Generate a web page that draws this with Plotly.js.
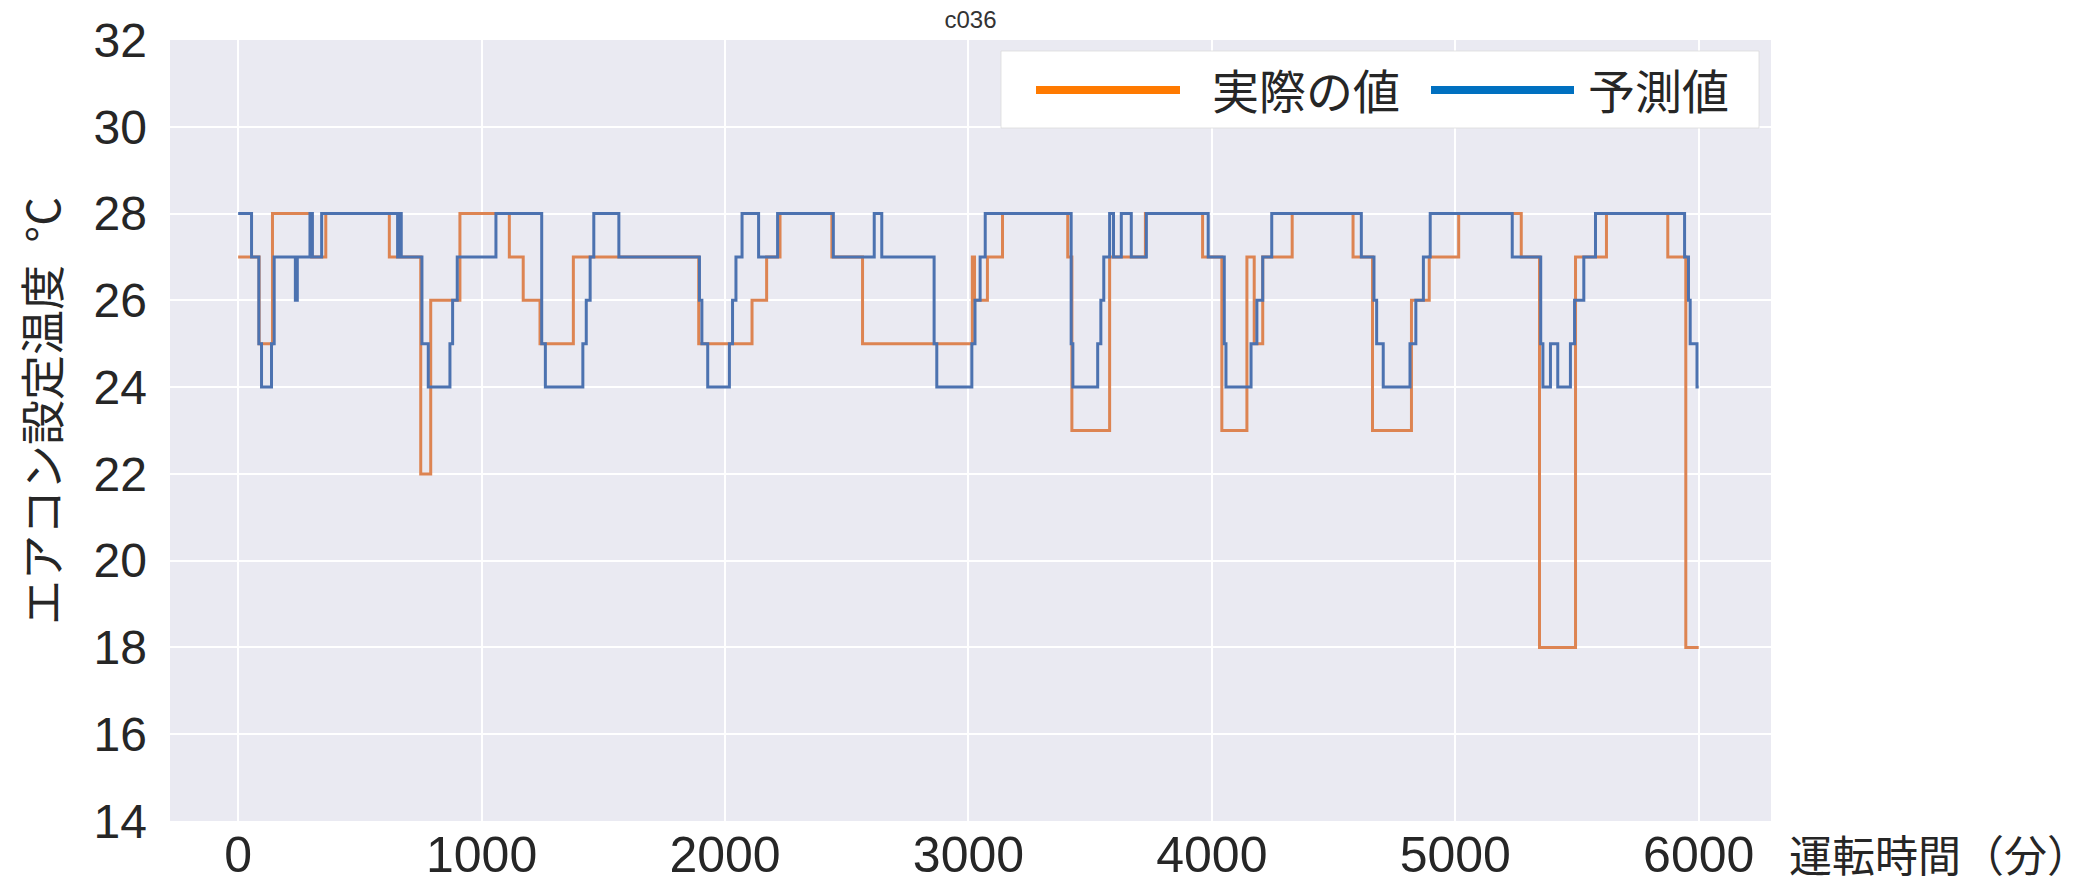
<!DOCTYPE html>
<html>
<head>
<meta charset="utf-8">
<script src="https://cdn.plot.ly/plotly-3.0.1.min.js"></script>
<style>
  html, body { margin: 0; padding: 0; background: #ffffff; }
  #chart { width: 2098px; height: 887px; }
</style>
</head>
<body>
<div id="chart"></div>
<script>
// ---- data (time in minutes, set temperature in °C), step change points ----
const actualTime = [0, 86, 141, 302, 360, 621, 750, 791, 911, 1114, 1171, 1240, 1377, 1892, 2111, 2171, 2226, 2439, 2565, 3016, 3025, 3078, 3140, 3408, 3425, 3580, 3727, 3962, 4041, 4144, 4174, 4209, 4330, 4580, 4660, 4820, 4893, 5014, 5271, 5346, 5494, 5621, 5873, 5947, 6000];
const actualTemp = [27, 25, 28, 27, 28, 27, 22, 26, 28, 27, 26, 25, 27, 25, 26, 27, 28, 27, 25, 27, 26, 27, 28, 27, 23, 27, 28, 27, 23, 27, 25, 27, 28, 27, 23, 26, 27, 28, 27, 18, 27, 28, 27, 18, 18];

const predTime = [0, 55, 85, 96, 137, 148, 235, 243, 295, 305, 343, 655, 662, 670, 755, 781, 870, 881, 900, 1059, 1247, 1262, 1416, 1430, 1446, 1461, 1564, 1895, 1905, 1929, 2018, 2031, 2045, 2070, 2138, 2216, 2445, 2613, 2644, 2859, 2870, 3014, 3027, 3048, 3069, 3422, 3429, 3531, 3544, 3556, 3580, 3596, 3628, 3669, 3731, 3985, 4051, 4058, 4161, 4185, 4209, 4246, 4614, 4666, 4677, 4704, 4814, 4838, 4869, 4897, 5234, 5351, 5360, 5391, 5421, 5473, 5490, 5528, 5576, 5942, 5958, 5965, 5993, 6000];
const predTemp = [28, 27, 25, 24, 25, 27, 26, 27, 28, 27, 28, 27, 28, 27, 25, 24, 25, 26, 27, 28, 25, 24, 25, 26, 27, 28, 27, 26, 25, 24, 25, 26, 27, 28, 27, 28, 27, 28, 27, 25, 24, 25, 26, 27, 28, 25, 24, 25, 26, 27, 28, 27, 28, 27, 28, 27, 25, 24, 25, 26, 27, 28, 27, 26, 25, 24, 25, 26, 27, 28, 27, 25, 24, 25, 24, 25, 26, 27, 28, 27, 26, 25, 24, 24];

const seriesNames = ['実際の値', '予測値'];
const xTickValues = [0, 1000, 2000, 3000, 4000, 5000, 6000];
const yTickValues = [14, 16, 18, 20, 22, 24, 26, 28, 30, 32];
const chartTitle = 'c036';
const xAxisTitle = '運転時間（分）';
const yAxisTitle = 'エアコン設定温度\u2002°C';

// ---- styling ----
const W = 2098, H = 887;
const M = { l: 170, r: 327, t: 40, b: 66 };
const plotW = W - M.l - M.r, plotH = H - M.t - M.b;
const px2x = p => (p - M.l) / plotW;        // full-page px -> paper x
const px2y = p => (H - M.b - p) / plotH;    // full-page px -> paper y

const lineOrange = '#dd8452', lineBlue = '#4c72b0';
const legOrange = '#ff7a00', legBlue = '#0070c0';
const textColor = '#262626';
const latin = '"Liberation Sans", Arial, sans-serif';
const cjk = '"Noto Sans CJK JP", "Noto Sans", sans-serif';

const traces = [
  { x: actualTime, y: actualTemp, name: seriesNames[0], type: 'scatter', mode: 'lines',
    line: { shape: 'hv', color: lineOrange, width: 3 }, showlegend: false },
  { x: predTime, y: predTemp, name: seriesNames[1], type: 'scatter', mode: 'lines',
    line: { shape: 'hv', color: lineBlue, width: 3 }, showlegend: false }
];

const layout = {
  width: W, height: H,
  margin: M,
  paper_bgcolor: '#ffffff',
  plot_bgcolor: '#eaeaf2',
  showlegend: false,
  title: { text: chartTitle, x: 0.5, xref: 'paper', xanchor: 'center', y: 1 - 20 / H, yref: 'container', yanchor: 'middle',
           font: { family: latin, size: 24, color: '#333333' } },
  xaxis: {
    range: [-280, 6297], tickvals: xTickValues, ticktext: xTickValues.map(String),
    showgrid: true, gridcolor: '#ffffff', gridwidth: 2, zeroline: false, showline: false,
    ticks: '', ticklabelstandoff: 0,
    tickfont: { family: latin, size: 50, color: textColor }
  },
  yaxis: {
    range: [14, 32], tickvals: yTickValues, ticktext: yTickValues.map(String),
    showgrid: true, gridcolor: '#ffffff', gridwidth: 2, zeroline: false, showline: false,
    ticks: '', ticklabelstandoff: 22,
    tickfont: { family: latin, size: 48, color: textColor }
  },
  shapes: [
    { type: 'rect', xref: 'paper', yref: 'paper', x0: px2x(1001), x1: px2x(1759), y0: px2y(128), y1: px2y(51),
      fillcolor: '#ffffff', line: { color: 'rgba(220,220,220,0.8)', width: 1 }, layer: 'above' },
    { type: 'line', xref: 'paper', yref: 'paper', x0: px2x(1036), x1: px2x(1180), y0: px2y(90), y1: px2y(90),
      line: { color: legOrange, width: 8 }, layer: 'above' },
    { type: 'line', xref: 'paper', yref: 'paper', x0: px2x(1431), x1: px2x(1574), y0: px2y(90), y1: px2y(90),
      line: { color: legBlue, width: 8 }, layer: 'above' }
  ],
  annotations: [
    { text: seriesNames[0], xref: 'paper', yref: 'paper', x: px2x(1210), y: px2y(89), xanchor: 'left', yanchor: 'middle',
      showarrow: false, font: { family: cjk, size: 47, color: textColor } },
    { text: seriesNames[1], xref: 'paper', yref: 'paper', x: px2x(1586), y: px2y(89), xanchor: 'left', yanchor: 'middle',
      showarrow: false, font: { family: cjk, size: 47, color: textColor } },
    { text: xAxisTitle, xref: 'paper', yref: 'paper', x: px2x(1787), y: px2y(853), xanchor: 'left', yanchor: 'middle',
      showarrow: false, font: { family: cjk, size: 43, color: textColor } },
    { text: yAxisTitle, xref: 'paper', yref: 'paper', x: px2x(40), y: px2y(411), xanchor: 'center', yanchor: 'middle',
      textangle: -90, showarrow: false, font: { family: cjk, size: 45, color: textColor } }
  ]
};

Plotly.newPlot('chart', traces, layout, { staticPlot: true, displayModeBar: false });
</script>
</body>
</html>
